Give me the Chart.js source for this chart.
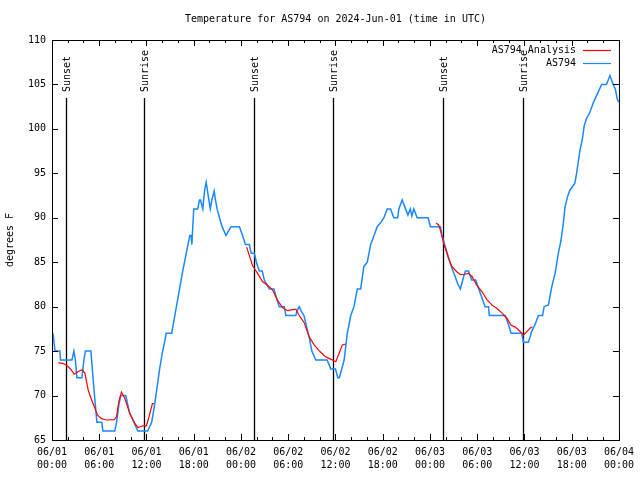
<!DOCTYPE html>
<html lang="en">
<head>
    <meta charset="UTF-8">
    <title>Temperature for AS794</title>
    <script src="https://cdn.jsdelivr.net/npm/chart.js"></script>
    <style>
        body { margin: 0; background: #fff; }
        canvas { display: block; }
    </style>
</head>
<body>
    <canvas id="tempChart" width="640" height="480"></canvas>

    <script>
        // hours since 2024-06-01 00:00 UTC, temps in degrees F
        const obsHours = [0.13, 0.38, 1.0, 1.08, 2.53, 2.78, 2.97, 3.16, 3.8, 4.05,
            4.24, 4.94, 5.3, 5.7, 6.33, 6.46, 7.97, 8.2, 8.5, 8.73,
            9.37, 9.87, 10.4, 10.9, 12.15, 12.66, 13.04, 13.67, 14.05, 14.3,
            14.5, 15.2, 15.8, 16.2, 16.6, 17.05, 17.5, 17.66, 17.76, 18.0,
            18.5, 18.73, 18.86, 19.15, 19.37, 19.58, 19.75, 20.1, 20.3, 20.6,
            20.76, 20.97, 21.27, 21.6, 22.1, 22.4, 22.75, 23.8, 24.2, 24.56,
            25.06, 25.3, 25.7, 25.95, 26.33, 26.7, 26.96, 27.6, 28.2, 28.5,
            28.86, 29.5, 29.7, 30.97, 31.1, 31.4, 31.65, 32.0, 32.4, 32.66,
            33.0, 33.5, 34.94, 35.4, 36.0, 36.3, 36.5, 37.1, 37.5, 37.94,
            38.35, 38.77, 39.2, 39.6, 40.04, 40.47, 40.9, 41.3, 41.7, 42.15,
            42.57, 43.0, 43.4, 43.9, 44.05, 44.47, 44.9, 45.2, 45.5, 45.7,
            45.95, 46.37, 47.76, 48.06, 49.33, 49.53, 49.96, 50.4, 50.8, 51.2,
            51.5, 51.86, 52.28, 52.5, 52.9, 53.3, 53.8, 54.2, 54.6, 55.0,
            55.44, 55.53, 57.56, 57.97, 58.3, 59.66, 59.87, 60.5, 60.72, 60.9,
            61.35, 61.77, 62.3, 62.5, 63.04, 63.46, 63.9, 64.3, 64.65, 64.94,
            65.15, 65.48, 65.78, 66.4, 66.62, 67.05, 67.34, 67.6, 67.9, 68.32,
            68.73, 69.28, 69.8, 70.42, 70.85, 71.27, 71.56, 71.8, 71.98];
        const obsTemps = [77, 75, 75, 74, 74, 75, 74, 72, 72, 74,
            75, 75, 71, 67, 67, 66, 66, 67, 69, 70,
            70, 68, 67, 66, 66, 67, 69, 73, 75, 76,
            77, 77, 80, 82, 84, 86, 88, 88, 87, 91,
            91, 92, 92, 91, 93, 94, 93, 91, 92, 93,
            92, 91, 90, 89, 88, 88.5, 89, 89, 88, 87,
            87, 86, 86, 85, 84, 84, 83, 82, 82, 81,
            80, 80, 79, 79, 79.5, 80, 79.5, 79, 77.5, 76.6,
            75, 74, 74, 73, 73, 72, 72, 74, 77, 79,
            80, 82, 82, 84.5, 85, 87, 88, 89, 89.4, 90,
            91, 91, 90, 90, 91, 92, 91, 90.3, 91, 90.2,
            91, 90, 90, 89, 89, 88, 86.7, 85.4, 84.3, 83.4,
            82.6, 82, 83.4, 84, 84, 83, 83, 82, 81, 80,
            80, 79, 79, 78, 77, 77, 76, 76, 76.6, 77.2,
            78, 79, 79, 80, 80.2, 82.2, 83.8, 86, 87.5, 89.4,
            91.2, 92.4, 93.1, 93.9, 95, 97.6, 98.8, 100.4, 101.2, 101.9,
            102.9, 104, 105, 105, 106, 105, 104.4, 103.3, 103];

        // analysis only exists overnight, null breaks the line
        const anaHours = [0.8, 1.43, 1.86, 2.4, 2.82, 3.33, 3.84, 4.18, 4.6, 5.03,
            5.44, 5.78, 6.29, 6.92, 7.89, 8.19, 8.48, 8.82, 9.24, 9.87,
            10.5, 10.92, 11.56, 11.99, 12.32, 12.75, 12.95, null,
            24.72, 25.48, 26.11, 26.75, 27.38, 28.0, 28.65, 29.28, 29.9, 30.76,
            30.97, 31.4, 32.03, 32.66, 33.3, 33.92, 34.68, 35.4, 36.04, 36.46,
            36.87, 37.3, null,
            48.77, 49.1, 49.33, 49.75, 50.38, 50.8, 51.43, 51.86, 52.4, 52.9,
            53.33, 53.96, 54.6, 55.23, 55.86, 56.5, 57.13, 57.76, 58.32, 58.82,
            59.24, 59.87, 60.3, 60.72, 61.0];
        const anaTemps = [73.7, 73.6, 73.4, 72.95, 72.4, 72.7, 72.9, 72.5, 70.6, 69.5,
            68.6, 67.8, 67.4, 67.25, 67.3, 67.6, 69.3, 70.4, 69.7, 68.0,
            66.9, 66.4, 66.6, 66.6, 67.6, 69.1, 69.1, null,
            86.7, 84.6, 83.75, 82.8, 82.4, 81.9, 80.7, 79.9, 79.55, 79.7,
            79.7, 79.0, 78.2, 76.6, 75.7, 75.05, 74.4, 74.1, 73.8, 74.75,
            75.7, 75.8, null,
            89.4, 89.2, 88.6, 87.1, 85.4, 84.5, 83.9, 83.6, 83.65, 83.75,
            83.4, 82.4, 81.7, 80.8, 80.2, 79.8, 79.3, 78.7, 77.9, 77.7,
            77.4, 76.8, 77.2, 77.6, 77.7];

        const sunHours = [1.73, 11.68, 25.6, 35.73, 49.66, 59.78];
        const sunLabels = ['Sunset', 'Sunrise', 'Sunset', 'Sunrise', 'Sunset', 'Sunrise'];

        const MONO = '"DejaVu Sans Mono", "Liberation Mono", monospace';
        const RED = '#ff0000';
        const BLUE = '#1a88ff';

        function pad2(n) {
            return (n < 10 ? '0' : '') + n;
        }

        // gnuplot style frame, inward ticks, sun lines and key
        const gnuplotBits = {
            id: 'gnuplotBits',
            beforeDatasetsDraw(chart) {
                const ctx = chart.ctx;
                const xs = chart.scales.x;
                const area = chart.chartArea;
                ctx.save();
                ctx.strokeStyle = '#000';
                ctx.lineWidth = 1.3;
                ctx.fillStyle = '#000';
                ctx.font = '10px ' + MONO;
                sunHours.forEach((h, i) => {
                    const px = Math.round(xs.getPixelForValue(h)) + 0.5;
                    ctx.beginPath();
                    ctx.moveTo(px, 98);
                    ctx.lineTo(px, area.bottom);
                    ctx.stroke();
                    ctx.save();
                    ctx.translate(px + 1, 92);
                    ctx.rotate(-Math.PI / 2);
                    ctx.textAlign = 'left';
                    ctx.textBaseline = 'middle';
                    ctx.fillText(sunLabels[i], 0, 0);
                    ctx.restore();
                });
                ctx.restore();
            },
            afterDatasetsDraw(chart) {
                const ctx = chart.ctx;
                const xs = chart.scales.x;
                const ys = chart.scales.y;
                const a = chart.chartArea;
                ctx.save();
                ctx.strokeStyle = '#000';
                ctx.lineWidth = 1;
                ctx.strokeRect(a.left + 0.5, a.top + 0.5, a.right - a.left, a.bottom - a.top);

                ctx.beginPath();
                ys.ticks.forEach(t => {
                    const py = Math.round(ys.getPixelForValue(t.value)) + 0.5;
                    ctx.moveTo(a.left, py);
                    ctx.lineTo(a.left + 6, py);
                    ctx.moveTo(a.right, py);
                    ctx.lineTo(a.right - 6, py);
                });
                for (let h = 0; h <= 72; h += 2) {
                    const len = h % 6 === 0 ? 6 : 3;
                    const px = Math.round(xs.getPixelForValue(h)) + 0.5;
                    ctx.moveTo(px, a.bottom);
                    ctx.lineTo(px, a.bottom - len);
                    ctx.moveTo(px, a.top);
                    ctx.lineTo(px, a.top + len);
                }
                ctx.stroke();

                // key
                ctx.font = '10px ' + MONO;
                ctx.fillStyle = '#000';
                ctx.textAlign = 'right';
                ctx.textBaseline = 'middle';
                const keys = [['AS794 Analysis', RED], ['AS794', BLUE]];
                keys.forEach((k, i) => {
                    const ky = 50 + i * 13;
                    ctx.fillText(k[0], 576, ky);
                    ctx.strokeStyle = k[1];
                    ctx.lineWidth = 1.2;
                    ctx.beginPath();
                    ctx.moveTo(583, ky + 0.5);
                    ctx.lineTo(611, ky + 0.5);
                    ctx.stroke();
                });
                ctx.restore();
            }
        };

        const ctx = document.getElementById('tempChart').getContext('2d');
        new Chart(ctx, {
            type: 'line',
            data: {
                datasets: [{
                    label: 'AS794 Analysis',
                    data: anaHours.map((h, i) => ({ x: h, y: anaTemps[i] })),
                    borderColor: RED,
                    borderWidth: 1.2,
                    pointRadius: 0,
                    spanGaps: false,
                    tension: 0
                }, {
                    label: 'AS794',
                    data: obsHours.map((h, i) => ({ x: h, y: obsTemps[i] })),
                    borderColor: BLUE,
                    borderWidth: 1.5,
                    pointRadius: 0,
                    tension: 0
                }]
            },
            options: {
                responsive: false,
                animation: false,
                events: [],
                layout: { padding: { left: 0, right: 19, top: 0, bottom: 0 } },
                scales: {
                    x: {
                        type: 'linear',
                        min: 0,
                        max: 72,
                        afterFit: s => { s.height = 40; },
                        grid: { display: false, drawTicks: false },
                        border: { display: false },
                        ticks: {
                            stepSize: 6,
                            autoSkip: false,
                            maxRotation: 0,
                            padding: 6,
                            color: '#000',
                            font: { family: MONO, size: 10, lineHeight: 1.3 },
                            callback: v => ['06/0' + (1 + Math.floor(v / 24)), pad2(v % 24) + ':00']
                        }
                    },
                    y: {
                        min: 65,
                        max: 110,
                        afterFit: s => { s.width = 52; },
                        grid: { display: false, drawTicks: false },
                        border: { display: false },
                        ticks: {
                            stepSize: 5,
                            padding: 6,
                            color: '#000',
                            font: { family: MONO, size: 10 }
                        },
                        title: {
                            display: true,
                            text: 'degrees F',
                            color: '#000',
                            font: { family: MONO, size: 10 },
                            padding: { top: 4, bottom: 0 }
                        }
                    }
                },
                plugins: {
                    legend: { display: false },
                    tooltip: { enabled: false },
                    title: {
                        display: true,
                        text: 'Temperature for AS794 on 2024-Jun-01 (time in UTC)',
                        fullSize: false,
                        color: '#000',
                        font: { family: MONO, size: 10, weight: 'normal' },
                        padding: { top: 13, bottom: 15 }
                    }
                }
            },
            plugins: [gnuplotBits]
        });
    </script>
</body>
</html>
